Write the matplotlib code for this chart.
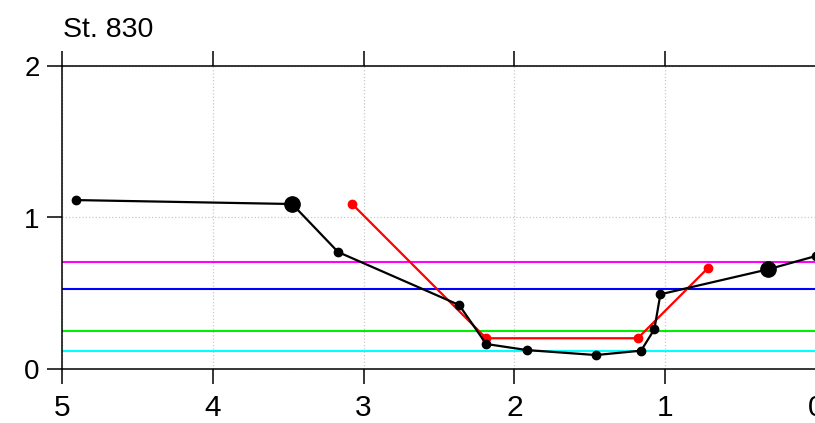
import matplotlib
matplotlib.use("Agg")
import matplotlib.pyplot as plt

plt.rcParams['font.family'] = ['Liberation Sans', 'DejaVu Sans']

title = "St. 830"
black_x = [4.907, 3.474, 3.169, 2.366, 2.187, 1.917, 1.459, 1.160, 1.072, 1.032, 0.317, 0.0]
black_y = [1.115, 1.089, 0.772, 0.422, 0.165, 0.125, 0.092, 0.121, 0.262, 0.493, 0.658, 0.746]
big_x = [3.474, 0.317]
big_y = [1.089, 0.658]
red_x = [3.076, 2.187, 1.182, 0.718]
red_y = [1.089, 0.203, 0.203, 0.665]
hline_vals = [0.706, 0.530, 0.251, 0.121]
hline_colors = ['#ff00ff', '#0000ff', '#00ee00', '#00ffff']
xticks = [5, 4, 3, 2, 1, 0]
yticks = [0, 1, 2]

fig = plt.figure(figsize=(8.15, 4.23), dpi=100)
ax = fig.add_axes([62/815, 54/423, 754/815, 303/423])
ax.set_xlim(5, 0)
ax.set_ylim(0, 2)

for v, c in zip(hline_vals, hline_colors):
    ax.axhline(v, color=c, lw=1.5, zorder=2)

ax.plot(black_x, black_y, color='black', lw=1.6, marker='o', ms=6, zorder=4)
ax.plot(big_x, big_y, ls='none', marker='o', color='black', ms=11, zorder=5)
ax.plot(red_x, red_y, color='red', lw=1.6, marker='o', ms=6, zorder=3)

ax.set_xticks(xticks)
ax.set_yticks(yticks)
ax.set_xticklabels([str(t) for t in xticks])
ax.set_yticklabels([str(t) for t in yticks])
ax.grid(True, color='#c8c8c8', ls=':', lw=0.9)
ax.set_axisbelow(True)
ax.tick_params(axis='both', direction='out', length=11, width=1.1)
ax.tick_params(axis='x', top=True, labelsize=21.5, pad=7)
ax.tick_params(axis='y', labelsize=20, pad=5)
for s in ['left', 'bottom', 'top']:
    ax.spines[s].set_linewidth(1.1)
ax.spines['right'].set_visible(False)

fig.text(63/815, 1 - 37/423, title, fontsize=20.5, ha='left', va='baseline')

fig.savefig('out.png', dpi=100)
